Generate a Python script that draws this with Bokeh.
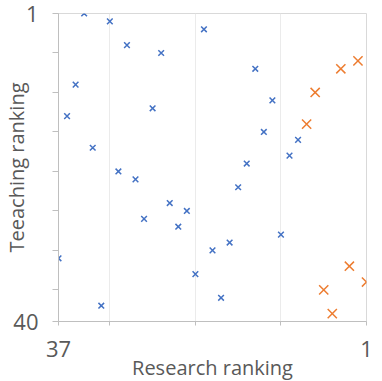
from bokeh.plotting import figure
from bokeh.models import Range1d, FixedTicker, ColumnDataSource
from bokeh.embed import file_html
from bokeh.resources import INLINE

# Data (rankings)
other_research = [34, 31, 29, 25, 20, 35, 36, 26, 33, 30, 28, 27, 24, 23, 22, 37, 32, 21,
                  19, 17, 18, 16, 15, 14, 12, 13, 10, 9, 11]
other_teaching = [1, 2, 5, 6, 3, 10, 14, 13, 18, 21, 22, 27, 25, 28, 26, 32, 38, 34,
                  31, 30, 37, 23, 20, 8, 12, 16, 19, 17, 29]
top_research = [2, 4, 7, 8, 3, 1, 6, 5]
top_teaching = [7, 8, 11, 15, 33, 35, 36, 39]

x_ticks = [37, 31, 21, 11, 1]
x_labels = {37: "37", 1: "1"}
y_ticks = [1, 6, 11, 16, 21, 26, 31, 36, 40]
y_labels = {1: "1", 40: "40"}
x_title = "Research ranking"
y_title = "Teeaching ranking"

FONT = "Open Sans"
TXT = "#595959"

p = figure(frame_width=308, frame_height=308, output_backend="svg", toolbar_location=None,
           x_range=Range1d(37, 1), y_range=Range1d(40, 1),
           min_border_left=58, min_border_right=8, min_border_top=13, min_border_bottom=40)
p.background_fill_color = "white"
p.border_fill_color = "white"
p.outline_line_color = "#d9d9d9"
p.outline_line_width = 1

# axes
p.xaxis.ticker = FixedTicker(ticks=x_ticks)
p.xaxis.major_label_overrides = {t: x_labels.get(t, "") for t in x_ticks}
p.yaxis.ticker = FixedTicker(ticks=y_ticks)
p.yaxis.major_label_overrides = {t: y_labels.get(t, "") for t in y_ticks}
for ax in (p.xaxis[0], p.yaxis[0]):
    ax.axis_line_color = "#bfbfbf"
    ax.major_tick_line_color = "#bfbfbf"
    ax.minor_tick_line_color = None
    ax.major_tick_in = 0
    ax.major_label_text_font = FONT
    ax.major_label_text_color = TXT
    ax.major_label_text_font_size = "22px"
    ax.axis_label_text_font = FONT
    ax.axis_label_text_color = TXT
    ax.axis_label_text_font_size = "20px"
    ax.axis_label_text_font_style = "normal"
p.xaxis.major_tick_out = 4
p.xaxis.major_label_standoff = 15
p.xaxis.axis_label = x_title
p.xaxis.axis_label_standoff = -6
p.yaxis.major_tick_out = 6
p.yaxis.major_label_standoff = 14
p.yaxis.axis_label = y_title
p.yaxis.axis_label_standoff = -20

p.xgrid.ticker = FixedTicker(ticks=[31, 21, 11])
p.xgrid.grid_line_color = "#ebebeb"
p.ygrid.visible = False

src_o = ColumnDataSource(dict(x=other_research, y=other_teaching))
src_t = ColumnDataSource(dict(x=top_research, y=top_teaching))
p.scatter("x", "y", source=src_o, marker="x", size=8, line_color="#4472C4", line_width=1.5)
p.scatter("x", "y", source=src_t, marker="x", size=13, line_color="#ED7D31", line_width=1.5)

open("out.html", "w").write(file_html(p, INLINE))
